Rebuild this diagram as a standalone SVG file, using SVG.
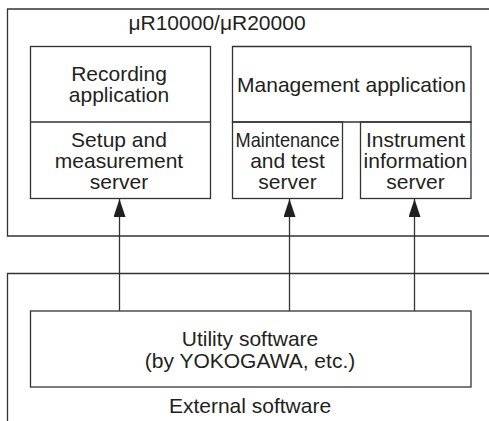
<svg xmlns="http://www.w3.org/2000/svg" width="489" height="421" viewBox="0 0 489 421">
<style>
.b{fill:none;stroke:#333;stroke-width:1.3}
.t{font-family:"Liberation Sans",Arial,sans-serif;font-size:21px;fill:#231f20;text-anchor:middle}
.c{stroke:#333;stroke-width:1.3;fill:none}
</style>
<defs>
<marker id="ah" markerUnits="userSpaceOnUse" markerWidth="18" markerHeight="12" refX="18" refY="6" orient="auto" viewBox="0 0 18 12">
<path d="M0,0 L18,6 L0,12 Z" fill="#231f20"/>
</marker>
</defs>
<rect width="489" height="421" fill="#fff"/>
<g id="device">
<path class="b" d="M489,9 H7.5 V236 H489"/>
<text class="t" x="217" y="30">μR10000/μR20000</text>
</g>
<g id="recording">
<rect class="b" x="30.5" y="46.5" width="180" height="152"/>
<line class="b" x1="30.5" y1="122" x2="210.5" y2="122"/>
<text class="t" x="119" y="81">Recording</text>
<text class="t" x="119" y="102">application</text>
<text class="t" x="119" y="147">Setup and</text>
<text class="t" x="119" y="168">measurement</text>
<text class="t" x="119" y="189">server</text>
</g>
<g id="management">
<path class="b" d="M232.5,122 V46.5 H471 V122 Z"/>
<text class="t" x="351.5" y="92">Management application</text>
</g>
<g id="maintenance">
<rect class="b" x="232.5" y="122" width="110" height="76.5"/>
<text class="t" x="287.5" y="147" textLength="104" lengthAdjust="spacingAndGlyphs">Maintenance</text>
<text class="t" x="287.5" y="168">and test</text>
<text class="t" x="287.5" y="189">server</text>
</g>
<g id="instrument">
<rect class="b" x="360.5" y="122" width="110.5" height="76.5"/>
<text class="t" x="415.5" y="147">Instrument</text>
<text class="t" x="415.5" y="168">information</text>
<text class="t" x="415.5" y="189">server</text>
</g>
<g id="external">
<path class="b" d="M489,273.5 H7.5 V421"/>
<text class="t" x="250" y="413">External software</text>
</g>
<g id="utility">
<rect class="b" x="30.5" y="311" width="440.5" height="76"/>
<text class="t" x="250" y="346">Utility software</text>
<text class="t" x="250" y="368">(by YOKOGAWA, etc.)</text>
</g>
<g id="connectors">
<line class="c" x1="119.5" y1="311" x2="119.5" y2="199" marker-end="url(#ah)"/>
<line class="c" x1="289.5" y1="311" x2="289.5" y2="199" marker-end="url(#ah)"/>
<line class="c" x1="414.5" y1="311" x2="414.5" y2="199" marker-end="url(#ah)"/>
</g>
</svg>
